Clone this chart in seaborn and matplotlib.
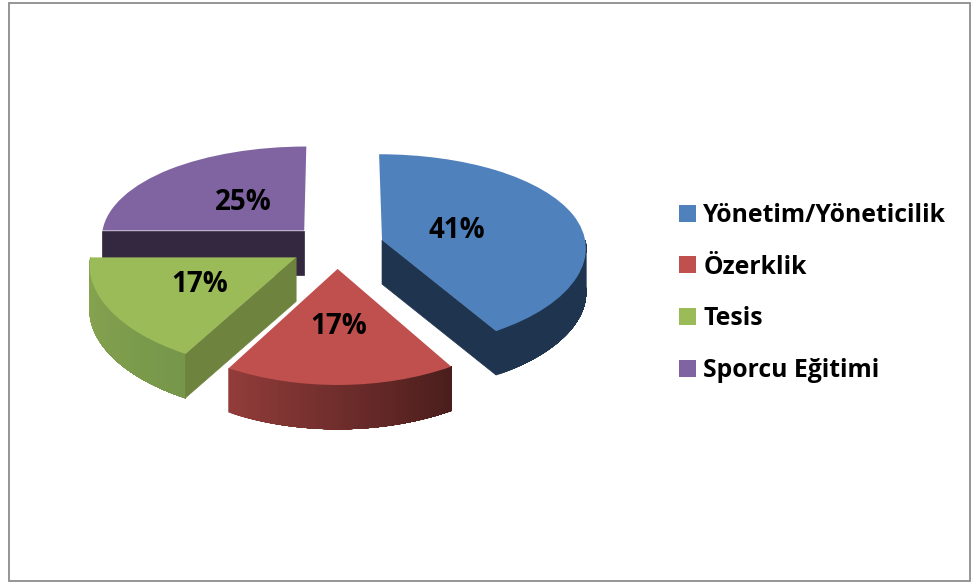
import numpy as np
import matplotlib
matplotlib.use("Agg")
import matplotlib.pyplot as plt
from matplotlib.transforms import Transform
from matplotlib.patches import Rectangle
import seaborn as sns

# Data
categories = ["Yönetim/Yöneticilik", "Özerklik", "Tesis", "Sporcu Eğitimi"]
shares = [41.4, 16.8, 16.8, 25]
top_colors = ["#4f81bd", "#c0504d", "#9bbb59", "#8064a2"]
side_left = ["#1f344f", "#923c3a", "#89a650", "#33283f"]
side_right = ["#1f344f", "#4b1e1d", "#76964a", "#33283f"]
cut_colors = ["#1f344f", "#4b1e1d", "#6e833e", "#33283f"]
label_radius = [0.385, 0.53, 0.53, 0.44]

# pie geometry, in pixels of the picture
CX, CY = 337, 246
SX, SY = 204, 97
TILT_X, TILT_Y = 0.07, 0.115
DEPTH = 44


def project(u, v):
    u, v = np.asarray(u), np.asarray(v)
    return CX + SX * u / (1 + TILT_X * v), CY - SY * v / (1 + TILT_Y * v)


class Tilted(Transform):
    input_dims = 2
    output_dims = 2
    is_affine = False

    def transform_non_affine(self, values):
        x, y = project(values[:, 0], values[:, 1])
        return np.column_stack([x, y])


def mix(a, b, t):
    a, b = np.array(matplotlib.colors.to_rgb(a)), np.array(matplotlib.colors.to_rgb(b))
    return a + (b - a) * t


sns.set_theme(style="white")
plt.rcParams["font.family"] = ["Open Sans", "DejaVu Sans"]

fig = plt.figure(figsize=(9.73, 5.83), dpi=100)
ax = fig.add_axes([0, 0, 1, 1])

wedges, texts, pcts = ax.pie(
    shares,
    colors=sns.color_palette(top_colors),
    startangle=90,
    counterclock=False,
    explode=[0.23] * 4,
    radius=1,
    autopct="%.0f%%",
    textprops={"fontsize": 20, "fontweight": "bold", "color": "black"},
)

ax.set_aspect("auto")
ax.set_xlim(0, 973)
ax.set_ylim(583, 0)
ax.axis("off")

tilted = Tilted() + ax.transData
draw_order = {3: 10, 0: 20, 2: 30, 1: 40}

for i, w in enumerate(wedges):
    z = draw_order[i]
    w.set_transform(tilted)
    w.set_linewidth(0)
    w.set_zorder(z + 2)
    cu, cv = w.center

    # outer wall, only the part facing the viewer
    # each strip runs to the end of the arc and the next one paints over it, so no seams
    lo, hi = max(w.theta1, -180), min(w.theta2, 0)
    if hi > lo:
        edges = np.linspace(lo, hi, int(hi - lo) + 2)
        for k in range(len(edges) - 1):
            a = np.radians(edges[k:])
            x, y = project(cu + np.cos(a), cv + np.sin(a))
            col = mix(side_left[i], side_right[i], k / max(len(edges) - 2, 1))
            ax.fill(np.r_[x, x[::-1]], np.r_[y, y[::-1] + DEPTH],
                    color=col, lw=0.5, zorder=z)

    # cut face next to the apex
    face = {0: w.theta1, 2: w.theta2, 3: w.theta2}.get(i)
    if face is not None:
        a = np.radians(face)
        x, y = project(np.array([cu, cu + np.cos(a)]), np.array([cv, cv + np.sin(a)]))
        ax.fill([x[0], x[1], x[1], x[0]],
                [y[0], y[1], y[1] + DEPTH, y[0] + DEPTH],
                color=cut_colors[i], lw=0.5, zorder=z + 1)

    # percent label sits on the tilted top face
    mid = np.radians((w.theta1 + w.theta2) / 2)
    x, y = project(cu + label_radius[i] * np.cos(mid), cv + label_radius[i] * np.sin(mid))
    pcts[i].set_position((float(x), float(y)))
    pcts[i].set_zorder(60)

ax.legend(
    wedges, categories,
    loc="center left", bbox_to_anchor=(679 / 973, 1 - 293 / 583),
    bbox_transform=fig.transFigure,
    frameon=False,
    prop={"family": "Open Sans", "weight": "bold", "size": 17.8},
    handlelength=0.68, handleheight=0.68, handletextpad=0.3,
    labelspacing=1.08, borderpad=0, borderaxespad=0,
    labelcolor="black",
)

# frame around the chart
ax.add_patch(Rectangle((9, 3), 961, 578, fill=False, ec="#8c8c8c", lw=1.3, zorder=70))

fig.savefig("out.png", dpi=100, facecolor="white")
